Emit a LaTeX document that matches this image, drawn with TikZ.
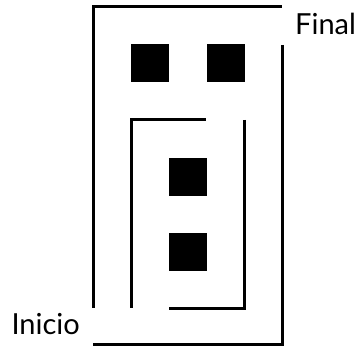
\documentclass[tikz,border=0pt]{standalone}
\usepackage{fontspec}
\setmainfont{Lato}
\begin{document}
\begin{tikzpicture}[x=1pt,y=-1pt,
  wall/.style={line width=3pt,line cap=butt,line join=miter},
  block/.style={fill=black,minimum size=38pt,inner sep=0pt,outer sep=0pt},
  lbl/.style={font=\fontsize{29}{33}\selectfont,inner sep=0pt}]
\useasboundingbox (0,0) rectangle (359,347);
% outer walls
\draw[wall] (93.5,308) -- (93.5,7) -- (282,7);
\draw[wall] (282.5,45) -- (282.5,344.5) -- (93,344.5);
% inner walls
\draw[wall] (131,308) -- (131,120) -- (206,120);
\draw[wall] (244.5,120) -- (244.5,308.5) -- (169,308.5);
% blocks
\node[block] (b1) at (150,63) {};
\node[block] (b2) at (226,63) {};
\node[block] (b3) at (188,177) {};
\node[block] (b4) at (188,252) {};
% labels
\node[lbl,anchor=base west] (fin) at (295,35) {Final};
\node[lbl,anchor=base east] (ini) at (80,335) {Inicio};
\end{tikzpicture}
\end{document}
